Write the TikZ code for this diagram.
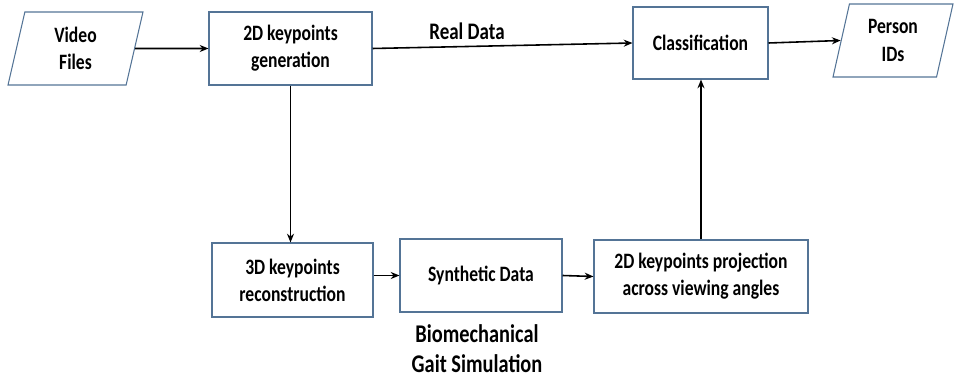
\documentclass[tikz,border=0pt]{standalone}
\usepackage{fontspec}
\setmainfont{Carlito}[FakeStretch=0.8]
\usepackage{tikz}
\usetikzlibrary{arrows.meta,positioning,shapes.geometric}
\definecolor{bordaazul}{RGB}{84,116,150}

\begin{document}
\begin{tikzpicture}[x=0.02cm, y=-0.02cm, >={Stealth[length=5pt,width=4pt]},
    caixa/.style={draw=bordaazul, line width=0.6pt, rectangle, align=center,
        minimum height=1.46cm, inner sep=2pt, font=\fontsize{12.5}{15.5}\selectfont\bfseries},
    dados/.style={draw=bordaazul, line width=0.6pt, trapezium, trapezium left angle=70,
        trapezium right angle=110, trapezium stretches body, align=center,
        minimum height=1.46cm, inner sep=1pt, font=\fontsize{12.5}{15.5}\selectfont\bfseries},
    seta/.style={->, line width=0.9pt, black}]
        \useasboundingbox (0,0) rectangle (954,381);

        % Entradas e saidas
        \node[dados, minimum width=2.7cm] (video) at (75.5,48.5) {Video\\Files};
        \node[dados, minimum width=2.4cm] (pessoa) at (893,40.5) {Person\\IDs};

        % Linha superior
        \node[caixa, minimum width=3.26cm] (gerar) at (290.5,48.5) {2D keypoints\\generation};
        \node[caixa, minimum width=2.7cm, minimum height=1.44cm] (classif) at (700.5,43) {Classification};

        % Linha inferior
        \node[caixa, minimum width=3.22cm, minimum height=1.48cm] (recon) at (292.5,280) {3D keypoints\\reconstruction};
        \node[caixa, minimum width=3.24cm] (sintet) at (481,275.5) {Synthetic Data};
        \node[caixa, minimum width=4.28cm] (proj) at (701,276.5) {2D keypoints projection\\across viewing angles};

        % Rotulos
        \node[font=\fontsize{13.5}{15}\selectfont\bfseries] (real) at (467,31) {Real Data};
        \node[align=center, inner sep=0pt, font=\fontsize{14.5}{17}\selectfont\bfseries] (biomec) at (477,349) {Biomechanical\\Gait Simulation};

        % Setas
        \draw[seta] (video.east) -- (gerar.west);
        \draw[seta] (gerar.east) -- (classif.west);
        \draw[seta] (classif.east) -- (pessoa.west);
        \draw[seta] (gerar.south) -- (gerar.south |- recon.north);
        \draw[seta] (sintet.west -| recon.east) -- (sintet.west);
        \draw[seta] (sintet.east) -- (proj.west);
        \draw[seta] (proj.north) -- (proj.north |- classif.south);
    \end{tikzpicture}
\end{document}
